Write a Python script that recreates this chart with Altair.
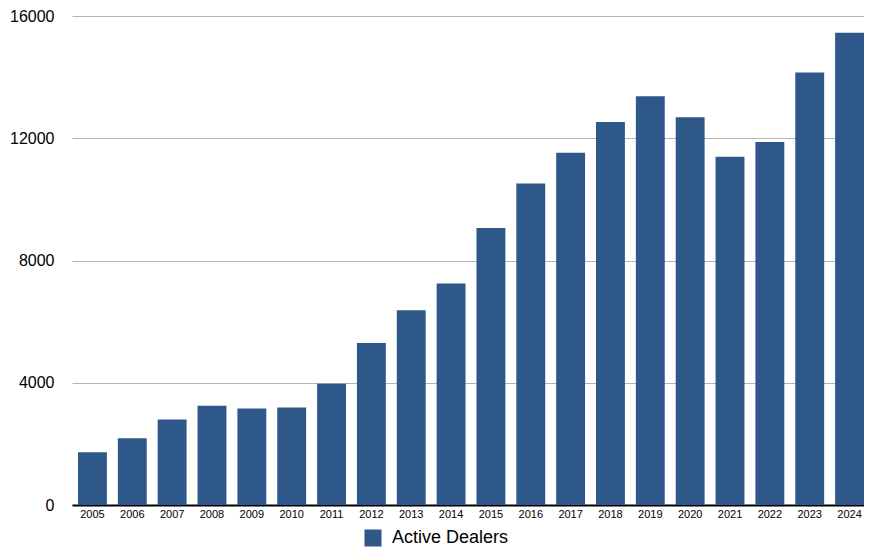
import altair as alt
import pandas as pd

years = [str(y) for y in range(2005, 2025)]
dealers = [1730, 2180, 2800, 3250, 3160, 3190, 3970, 5300, 6370, 7245,
           9060, 10520, 11525, 12530, 13375, 12690, 11395, 11880, 14150, 15450]
series = ["Active Dealers"] * len(years)
y_ticks = [0, 4000, 8000, 12000, 16000]

df = pd.DataFrame({"year": years, "value": dealers, "series": series})

font = "Liberation Sans"

chart = alt.Chart(df).mark_bar().encode(
    x=alt.X("year:N", title=None,
            scale=alt.Scale(paddingInner=0.275, paddingOuter=0.0753, align=1),
            axis=alt.Axis(labelAngle=0, labelFontSize=11, labelFont=font, labelColor="#000000",
                          labelPadding=3, ticks=False, domainColor="#000000", domainWidth=2,
                          grid=False)),
    y=alt.Y("value:Q", title=None,
            scale=alt.Scale(domain=[0, 16000], nice=False),
            axis=alt.Axis(values=y_ticks, format="d", labelFontSize=16, labelFont=font,
                          labelColor="#000000", labelPadding=18, ticks=False, domain=False,
                          grid=True, gridColor="#b4b4b4", gridWidth=1)),
    color=alt.Color("series:N", title=None,
                    scale=alt.Scale(range=["#2E5889"]),
                    legend=alt.Legend(orient="none", legendX=292, legendY=513,
                                      symbolType="square", symbolSize=289,
                                      symbolStrokeWidth=0, symbolOpacity=1,
                                      labelFontSize=18, labelFont=font, labelColor="#000000",
                                      labelOffset=10, padding=0)),
).properties(
    width=792,
    height=489,
    autosize=alt.AutoSizeParams(type="none"),
    padding={"left": 64, "top": 8, "right": 0, "bottom": 45},
).configure_view(stroke=None)

chart.save("out.html", embed_options={"renderer": "svg", "actions": False})
